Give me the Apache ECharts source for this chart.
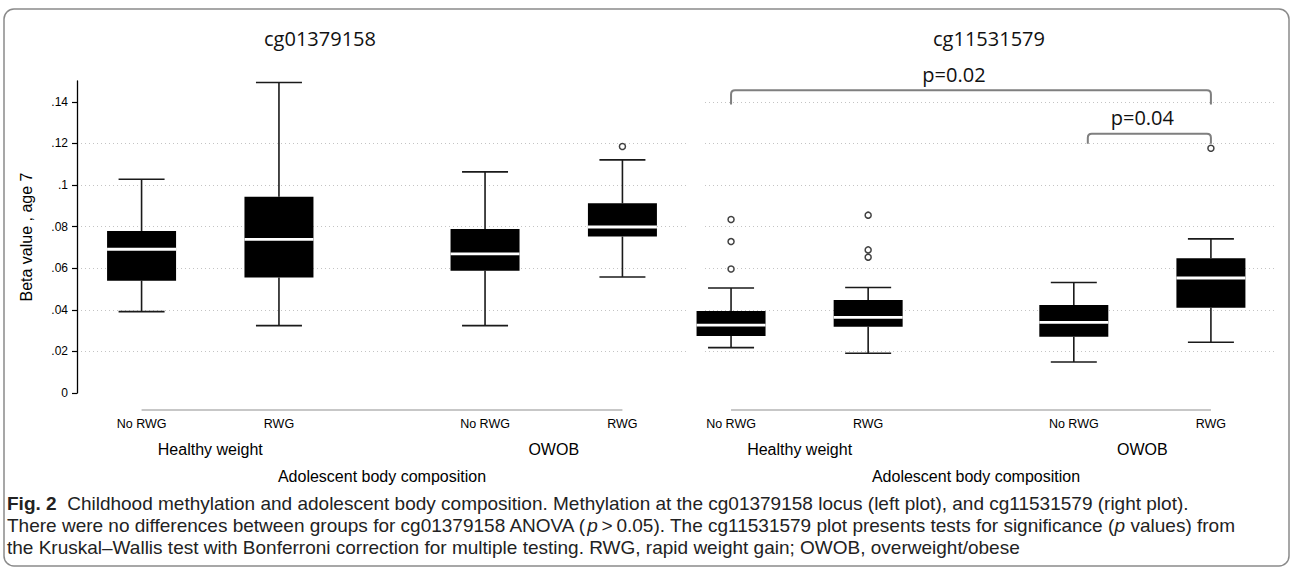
<!DOCTYPE html>
<html><head><meta charset="utf-8">
<script src="https://cdn.jsdelivr.net/npm/echarts@6/dist/echarts.min.js"></script>
<style>html,body{margin:0;padding:0;background:#fff}#c{width:1293px;height:572px}</style>
</head><body><div id="c"></div>
<script>
// ---------- data ----------
const categories = ['No RWG', 'RWG', 'No RWG', 'RWG'];
const categoryPositions = [0, 1, 2.5, 3.5];
const groups = ['Healthy weight', 'OWOB'];
const groupPositions = [0.5, 3.0];
const yTickValues = [0, 0.02, 0.04, 0.06, 0.08, 0.10, 0.12, 0.14];
const panelTitles = ['cg01379158', 'cg11531579'];
const xAxisTitle = 'Adolescent body composition';
const yAxisTitle = 'Beta value , age 7';
// each box: [lower whisker, Q1, median, Q3, upper whisker]
const cg01379158Box = [
  [0.0391, 0.0540, 0.0691, 0.0779, 0.1028],
  [0.0324, 0.0555, 0.0739, 0.0943, 0.1493],
  [0.0324, 0.0588, 0.0669, 0.0789, 0.1063],
  [0.0558, 0.0752, 0.0798, 0.0912, 0.1121]
];
// outliers: [category index, value]
const cg01379158Outliers = [[3, 0.1185]];
const cg11531579Box = [
  [0.0218, 0.0274, 0.0326, 0.0394, 0.0505],
  [0.0191, 0.0319, 0.0364, 0.0447, 0.0507],
  [0.0149, 0.0271, 0.0340, 0.0423, 0.0531],
  [0.0244, 0.0410, 0.0553, 0.0648, 0.0741]
];
const cg11531579Outliers = [[0, 0.0834], [0, 0.0728], [0, 0.0596], [1, 0.0855], [1, 0.0688], [1, 0.0653], [3, 0.1177]];
// significance brackets (cg11531579 panel)
const pLabels = ['p=0.02', 'p=0.04'];
const pFrom = [0, 2];
const pTo = [3, 3];
const pTop = [0.1455, 0.1246];
const pLegEnd = [0.1387, 0.1198];
const captionLines = [
  '{b|Fig. 2}  Childhood methylation and adolescent body composition. Methylation at the cg01379158 locus (left plot), and cg11531579 (right plot).',
  'There were no differences between groups for cg01379158 ANOVA ({i|p}\u2009>\u20090.05). The cg11531579 plot presents tests for significance ({i|p} values) from',
  'the Kruskal\u2013Wallis test with Bonferroni correction for multiple testing. RWG, rapid weight gain; OWOB, overweight/obese'
];

// ---------- layout / style ----------
const ARIAL = 'Liberation Sans, Arial, sans-serif';
const SANS = 'Open Sans, Noto Sans, sans-serif';
const BOX_W = 69, CAP_W = 46;
const bracketInset = [[0, 0], [14, 0]];
const bracketTextShift = [-17, -7];
const CAPTION_SIZE = 19;
const CAPTION_FONT = 'Liberation Sans, Arial, sans-serif';
const GRID_L = {left: 77, top: 81, width: 610, height: 312};
const GRID_R = {left: 705, top: 81, width: 572, height: 312};
const X_RANGE_L = [-0.47, 3.97];
const X_RANGE_R = [-0.19, 3.982];

const chart = echarts.init(document.getElementById('c'), null, {renderer: 'svg'});

function boxData(arr) {
  return arr.map((b, i) => [categoryPositions[i]].concat(b));
}
function outlierData(arr) {
  return arr.map(o => [categoryPositions[o[0]], o[1]]);
}
function renderBox(params, api) {
  const x = api.value(0);
  const lo = api.coord([x, api.value(1)]);
  const q1 = api.coord([x, api.value(2)]);
  const md = api.coord([x, api.value(3)]);
  const q3 = api.coord([x, api.value(4)]);
  const hi = api.coord([x, api.value(5)]);
  const cx = lo[0];
  const wStyle = {stroke: '#1a1a1a', lineWidth: 1.6};
  return {type: 'group', children: [
    {type: 'line', shape: {x1: cx, y1: lo[1], x2: cx, y2: q1[1]}, style: wStyle},
    {type: 'line', shape: {x1: cx, y1: q3[1], x2: cx, y2: hi[1]}, style: wStyle},
    {type: 'line', shape: {x1: cx - CAP_W / 2, y1: lo[1], x2: cx + CAP_W / 2, y2: lo[1]}, style: wStyle},
    {type: 'line', shape: {x1: cx - CAP_W / 2, y1: hi[1], x2: cx + CAP_W / 2, y2: hi[1]}, style: wStyle},
    {type: 'rect', shape: {x: cx - BOX_W / 2, y: q3[1], width: BOX_W, height: q1[1] - q3[1]}, style: {fill: '#000'}},
    {type: 'line', shape: {x1: cx - BOX_W / 2, y1: md[1], x2: cx + BOX_W / 2, y2: md[1]}, style: {stroke: '#fff', lineWidth: 2.8}}
  ]};
}
function renderBaseLine(params, api) {
  const a = api.coord([api.value(0), 0]);
  const b = api.coord([api.value(1), 0]);
  return {type: 'line', shape: {x1: a[0], y1: a[1] + 17, x2: b[0], y2: b[1] + 17},
    style: {stroke: '#b4b4b4', lineWidth: 1.5}};
}
function renderBracket(params, api) {
  const i = api.value(4);
  const l = api.coord([api.value(0), api.value(2)]);
  const r = api.coord([api.value(1), api.value(2)]);
  const yl = api.coord([api.value(0), api.value(3)])[1];
  const xl = l[0] + bracketInset[i][0];
  const xr = r[0] + bracketInset[i][1];
  const yt = l[1];
  const rad = 4;
  const path = 'M' + xl + ' ' + yl + ' L' + xl + ' ' + (yt + rad) + ' Q' + xl + ' ' + yt + ' ' + (xl + rad) + ' ' + yt +
    ' L' + (xr - rad) + ' ' + yt + ' Q' + xr + ' ' + yt + ' ' + xr + ' ' + (yt + rad) + ' L' + xr + ' ' + yl;
  return {type: 'group', children: [
    {type: 'path', shape: {pathData: path}, style: {stroke: '#7f7f7f', lineWidth: 2, fill: null}},
    {type: 'text', x: (xl + xr) / 2 + bracketTextShift[i], y: yt - 6,
      style: {text: pLabels[i], fontSize: 20, fontFamily: SANS, fill: '#111', align: 'center', verticalAlign: 'bottom'}}
  ]};
}

const catValue = v => categoryPositions.findIndex(p => Math.abs(p - v) < 1e-6);
const grpValue = v => groupPositions.findIndex(p => Math.abs(p - v) < 1e-6);
function catAxis(gi, range, namePad) {
  return {
    type: 'value', gridIndex: gi, min: range[0], max: range[1],
    axisLine: {show: false}, axisTick: {show: false}, splitLine: {show: false},
    axisLabel: {
      customValues: categoryPositions, margin: 24, fontSize: 12.5, fontFamily: ARIAL, color: '#000',
      hideOverlap: false, showMinLabel: true, showMaxLabel: true,
      formatter: v => { const c = catValue(v); return c >= 0 ? categories[c] : ''; }
    },
    name: xAxisTitle, nameLocation: 'middle', nameGap: 75,
    nameTextStyle: {fontSize: 16, fontFamily: ARIAL, color: '#000', padding: namePad}
  };
}
function groupAxis(gi, range) {
  return {
    type: 'value', gridIndex: gi, min: range[0], max: range[1],
    axisLine: {show: false}, axisTick: {show: false}, splitLine: {show: false},
    axisLabel: {
      customValues: groupPositions, margin: 48, fontSize: 16, fontFamily: ARIAL, color: '#000',
      hideOverlap: false, showMinLabel: true, showMaxLabel: true,
      formatter: v => { const g = grpValue(v); return g >= 0 ? groups[g] : ''; }
    }
  };
}
function hiddenY(gi) {
  return {type: 'value', gridIndex: gi, min: 0, max: 0.15, show: false};
}
const gridLine = {show: true, showMinLine: false, showMaxLine: false,
  lineStyle: {color: '#c4c4c4', width: 1, type: [1, 3]}};

const option = {
  backgroundColor: '#fff',
  animation: false,
  grid: [GRID_L, GRID_R, GRID_L, GRID_R],
  xAxis: [
    catAxis(0, X_RANGE_L, [0, 0, 0, 0]),
    catAxis(1, X_RANGE_R, [0, 30, 0, 0]),
    groupAxis(2, X_RANGE_L),
    groupAxis(3, X_RANGE_R)
  ],
  yAxis: [
    {type: 'value', gridIndex: 0, min: 0, max: 0.15, interval: 0.02,
      axisLine: {show: true, onZero: false, lineStyle: {color: '#000', width: 1.3}},
      axisTick: {show: true, length: 5, customValues: yTickValues, lineStyle: {color: '#000', width: 1.2}},
      axisLabel: {customValues: yTickValues, margin: 9, fontSize: 12, fontFamily: ARIAL, color: '#000',
        formatter: v => v === 0 ? '0' : String(+v.toFixed(2)).replace(/^0/, '')},
      splitLine: gridLine,
      name: yAxisTitle, nameLocation: 'middle', nameGap: 43, nameRotate: 90,
      nameTextStyle: {fontSize: 16, fontFamily: ARIAL, color: '#000'}},
    {type: 'value', gridIndex: 1, min: 0, max: 0.15, interval: 0.02,
      axisLine: {show: false, onZero: false}, axisTick: {show: false}, axisLabel: {show: false},
      splitLine: gridLine},
    hiddenY(2),
    hiddenY(3)
  ],
  series: [
    {type: 'custom', xAxisIndex: 0, yAxisIndex: 0, clip: false, renderItem: renderBaseLine,
      data: [[categoryPositions[0], categoryPositions[categoryPositions.length - 1]]], silent: true},
    {type: 'custom', xAxisIndex: 1, yAxisIndex: 1, clip: false, renderItem: renderBaseLine,
      data: [[categoryPositions[0], categoryPositions[categoryPositions.length - 1]]], silent: true},
    {type: 'custom', name: panelTitles[0], xAxisIndex: 0, yAxisIndex: 0, clip: false,
      renderItem: renderBox, encode: {x: 0, y: [1, 2, 3, 4, 5]}, data: boxData(cg01379158Box)},
    {type: 'custom', name: panelTitles[1], xAxisIndex: 1, yAxisIndex: 1, clip: false,
      renderItem: renderBox, encode: {x: 0, y: [1, 2, 3, 4, 5]}, data: boxData(cg11531579Box)},
    {type: 'scatter', xAxisIndex: 0, yAxisIndex: 0, symbol: 'circle', symbolSize: 6,
      itemStyle: {color: '#fff', borderColor: '#111', borderWidth: 1.5}, data: outlierData(cg01379158Outliers)},
    {type: 'scatter', xAxisIndex: 1, yAxisIndex: 1, symbol: 'circle', symbolSize: 6,
      itemStyle: {color: '#fff', borderColor: '#111', borderWidth: 1.5}, data: outlierData(cg11531579Outliers)},
    {type: 'custom', xAxisIndex: 1, yAxisIndex: 1, clip: false, renderItem: renderBracket,
      encode: {x: [0, 1], y: [2, 3]},
      data: pLabels.map((p, i) => [categoryPositions[pFrom[i]], categoryPositions[pTo[i]], pTop[i], pLegEnd[i], i])}
  ],
  graphic: [
    {type: 'rect', shape: {x: 4, y: 9, width: 1285, height: 557, r: 10},
      style: {fill: null, stroke: '#8a8a8a', lineWidth: 1.5}, silent: true},
    {type: 'text', x: 320, y: 38, style: {text: panelTitles[0], fontSize: 20, fontFamily: SANS, fill: '#111', align: 'center', verticalAlign: 'middle'}},
    {type: 'text', x: 989, y: 38, style: {text: panelTitles[1], fontSize: 20, fontFamily: SANS, fill: '#111', align: 'center', verticalAlign: 'middle'}}
  ].concat(captionLines.map((t, i) => ({
    type: 'text', x: 7, y: 503 + i * 22,
    style: {text: t, fontSize: CAPTION_SIZE, lineHeight: 21, fontFamily: CAPTION_FONT, fill: '#222', verticalAlign: 'middle',
      rich: {b: {fontSize: CAPTION_SIZE, lineHeight: 21, fontFamily: CAPTION_FONT, fontWeight: 'bold', fill: '#222'},
             i: {fontSize: CAPTION_SIZE, lineHeight: 21, fontFamily: CAPTION_FONT, fontStyle: 'italic', fill: '#222'}}}
  })))
};
chart.setOption(option);
</script>
</body></html>
